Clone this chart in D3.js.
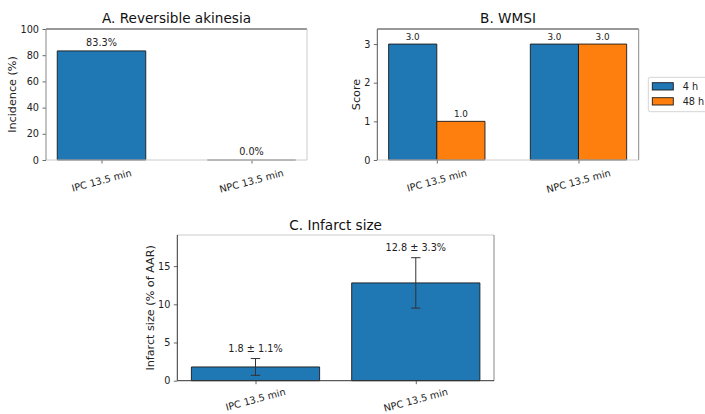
<!DOCTYPE html>
<html>
<head>
<meta charset="utf-8">
<script src="https://cdn.jsdelivr.net/npm/d3@7"></script>
<style>
  body { margin: 0; background: #fff; }
  svg { display: block; font-family: "DejaVu Sans", sans-serif; }
</style>
</head>
<body>
<svg id="chart" width="705" height="414"></svg>
<script>
// ---- data ----
const categories = ["IPC 13.5 min", "NPC 13.5 min"];
const akinesiaValues = [83.3, 0.0];
const akinesiaTicks = [0, 20, 40, 60, 80, 100];
const seriesNames = ["4 h", "48 h"];
const wmsi4h = [3.0, 3.0];
const wmsi48h = [1.0, 3.0];
const wmsiTicks = [0, 1, 2, 3];
const infarctMeans = [1.8, 12.8];
const infarctSEM = [1.1, 3.3];
const infarctTicks = [0, 5, 10, 15];

const BLUE = "#1f77b4", ORANGE = "#ff7f0e";
const svg = d3.select("#chart");

function barPath(x0, x1, yTop, yBase) {
  return `M${x0},${yBase}L${x0},${yTop}L${x1},${yTop}L${x1},${yBase}Z`;
}

function panel(cfg) {
  const g = svg.append("g");
  const x = d3.scaleLinear().domain(cfg.xDomain).range([cfg.left, cfg.right]);
  const y = d3.scaleLinear().domain(cfg.yDomain).range([cfg.bottom, cfg.top]);

  // y axis
  const yAxis = g.append("g").attr("transform", `translate(${cfg.left},0)`)
    .call(d3.axisLeft(y).tickValues(cfg.yTicks).tickSize(3.5).tickPadding(3.5).tickFormat(d3.format("d")));
  yAxis.select(".domain").remove();
  yAxis.selectAll(".tick line").attr("stroke", "#444").attr("stroke-width", 0.8);
  yAxis.selectAll(".tick text").attr("fill", "#222").style("font-size", "9.7px").style("font-family", "DejaVu Sans");

  // x ticks
  const xAxis = g.append("g").attr("transform", `translate(0,${cfg.bottom})`)
    .call(d3.axisBottom(x).tickValues(categories.map((d, i) => i)).tickSize(3.5).tickFormat(""));
  xAxis.select(".domain").remove();
  xAxis.selectAll(".tick line").attr("stroke", "#444").attr("stroke-width", 0.8);

  // rotated x tick labels
  categories.forEach((c, i) => {
    const t = g.append("text").text(c)
      .attr("fill", "#222").style("font-size", "9.7px")
      .attr("text-anchor", "middle").attr("dominant-baseline", "central");
    const w = t.node().getComputedTextLength();
    const h = 11.3;
    const a = 15 * Math.PI / 180;
    const bh = w * Math.sin(a) + h * Math.cos(a);
    const cx = x(i), cy = cfg.bottom + cfg.labelGap + bh / 2;
    t.attr("x", cx).attr("y", cy).attr("transform", `rotate(-15,${cx},${cy})`);
  });

  // y label
  const ly = (cfg.top + cfg.bottom) / 2;
  g.append("text").text(cfg.ylabel)
    .attr("transform", `translate(${cfg.ylabelX},${ly}) rotate(-90)`)
    .attr("text-anchor", "middle").attr("dominant-baseline", "central")
    .attr("fill", "#222").style("font-size", "11.2px");

  // title
  g.append("text").text(cfg.title)
    .attr("x", (cfg.left + cfg.right) / 2).attr("y", cfg.titleY)
    .attr("text-anchor", "middle").attr("dominant-baseline", "central")
    .attr("fill", "#111").style("font-size", "13.6px");

  return { g, x, y };
}

function spines(g, cfg, colors) {
  const [t, r, b, l] = colors;
  g.append("line").attr("x1", cfg.left).attr("x2", cfg.right).attr("y1", cfg.top).attr("y2", cfg.top).attr("stroke", t);
  g.append("line").attr("x1", cfg.right).attr("x2", cfg.right).attr("y1", cfg.top).attr("y2", cfg.bottom).attr("stroke", r);
  g.append("line").attr("x1", cfg.left).attr("x2", cfg.right).attr("y1", cfg.bottom).attr("y2", cfg.bottom).attr("stroke", b);
  g.append("line").attr("x1", cfg.left).attr("x2", cfg.left).attr("y1", cfg.top).attr("y2", cfg.bottom).attr("stroke", l);
}

// ---- Panel A ----
const cfgA = { left: 46, right: 307, top: 29, bottom: 160, xDomain: [-0.37, 1.37], yDomain: [0, 100], labelGap: 7,
  yTicks: akinesiaTicks, ylabel: "Incidence (%)", ylabelX: 12.7, title: "A. Reversible akinesia", titleY: 18.3 };
{
  const { g, x, y } = panel(cfgA);
  const bw = 0.59;
  akinesiaValues.forEach((v, i) => {
    g.append("path").attr("d", barPath(x(i - bw / 2), x(i + bw / 2), y(v), y(0)))
      .attr("fill", BLUE).attr("stroke", v === 0 ? "#888" : "#1a1a1a").attr("stroke-width", v === 0 ? 1.6 : 0.9);
    g.append("text").text(v.toFixed(1) + "%")
      .attr("x", x(i)).attr("y", y(v) - 5.3).attr("text-anchor", "middle")
      .attr("fill", "#222").style("font-size", "9.7px");
  });
  spines(g, cfgA, ["#333", "#ccc", "#ccc", "#888"]);
}

// ---- Panel B ----
const cfgB = { left: 377.3, right: 638.7, top: 29, bottom: 160, xDomain: [-0.42, 1.425], yDomain: [0, 3.39], labelGap: 7,
  yTicks: wmsiTicks, ylabel: "Score", ylabelX: 356, title: "B. WMSI", titleY: 18.3 };
{
  const { g, x, y } = panel(cfgB);
  const bw = 0.34;
  const series = [wmsi4h, wmsi48h];
  const colors = [BLUE, ORANGE];
  series.forEach((vals, s) => {
    vals.forEach((v, i) => {
      const c = i + (s === 0 ? -bw / 2 : bw / 2);
      g.append("path").attr("d", barPath(x(c - bw / 2), x(c + bw / 2), y(v), y(0)))
        .attr("fill", colors[s]).attr("stroke", "#1a1a1a").attr("stroke-width", 0.9);
      g.append("text").text(v.toFixed(1))
        .attr("x", x(c)).attr("y", y(v) - 4.5).attr("text-anchor", "middle")
        .attr("fill", "#222").style("font-size", "8.8px");
    });
  });
  spines(g, cfgB, ["#333", "#888", "#ccc", "#555"]);

  // legend
  const lg = svg.append("g");
  lg.append("rect").attr("x", 648.3).attr("y", 77.3).attr("width", 70).attr("height", 34.4)
    .attr("rx", 2).attr("fill", "#fff").attr("stroke", "#d4d4d4").attr("stroke-width", 1);
  seriesNames.forEach((n, s) => {
    const py = 82.7 + s * 15;
    lg.append("rect").attr("x", 652.3).attr("y", py).attr("width", 21).attr("height", 7.3)
      .attr("fill", colors[s]).attr("stroke", "#1a1a1a").attr("stroke-width", 0.9);
    lg.append("text").text(n).attr("x", 682.7).attr("y", py + 3.8)
      .attr("dominant-baseline", "central").attr("fill", "#222").style("font-size", "9.7px");
  });
}

// ---- Panel C ----
const cfgC = { left: 177.3, right: 494, top: 235, bottom: 380.7, xDomain: [-0.488, 1.488], yDomain: [0, 19.07], labelGap: 5.2,
  yTicks: infarctTicks, ylabel: "Infarct size (% of AAR)", ylabelX: 150, title: "C. Infarct size", titleY: 225 };
{
  const { g, x, y } = panel(cfgC);
  const bw = 0.8;
  infarctMeans.forEach((v, i) => {
    g.append("path").attr("d", barPath(x(i - bw / 2), x(i + bw / 2), y(v), y(0)))
      .attr("fill", BLUE).attr("stroke", "#1a1a1a").attr("stroke-width", 0.9);
    const lo = v - infarctSEM[i], hi = v + infarctSEM[i];
    const eg = g.append("g").attr("stroke", "#333").attr("stroke-width", 1);
    eg.append("line").attr("x1", x(i)).attr("x2", x(i)).attr("y1", y(lo)).attr("y2", y(hi));
    [lo, hi].forEach(e => eg.append("line").attr("x1", x(i) - 4.7).attr("x2", x(i) + 4.7).attr("y1", y(e)).attr("y2", y(e)));
    g.append("text").text(`${v.toFixed(1)} ± ${infarctSEM[i].toFixed(1)}%`)
      .attr("x", x(i)).attr("y", y(hi) - 6.3).attr("text-anchor", "middle")
      .attr("fill", "#222").style("font-size", "9.7px");
  });
  spines(g, cfgC, ["#ccc", "#888", "#333", "#333"]);
}
</script>
</body>
</html>
